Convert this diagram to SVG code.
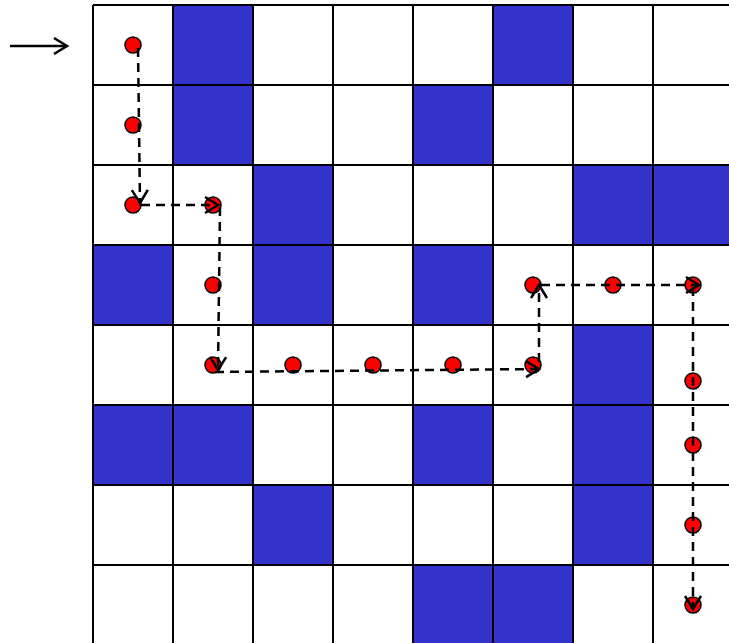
<svg xmlns="http://www.w3.org/2000/svg" width="729" height="643" viewBox="0 0 729 643">
<defs>
<style>
.cell{fill:#fff;stroke:#000;stroke-width:2}
.blue{fill:#3333CC;stroke:#000;stroke-width:2}
.dot{fill:#ff0000;stroke:#000;stroke-width:1.5}
.path{fill:none;stroke:#000;stroke-width:2.5;stroke-dasharray:9,6}
</style>
<marker id="ah" markerUnits="userSpaceOnUse" markerWidth="30" markerHeight="30" viewBox="-15 -15 30 30" refX="0" refY="0" orient="auto" overflow="visible">
<path d="M-13,-8 L0,0 L-13,8" fill="none" stroke="#000" stroke-width="2.5"/>
</marker>
</defs>
<rect width="729" height="643" fill="#fff"/>
<g id="grid">
<path d="M93,5 H733 M93,85 H733 M93,165 H733 M93,245 H733 M93,325 H733 M93,405 H733 M93,485 H733 M93,565 H733 M93,5 V645 M173,5 V645 M253,5 V645 M333,5 V645 M413,5 V645 M493,5 V645 M573,5 V645 M653,5 V645" stroke="#000" stroke-width="2" fill="none"/>
<g class="blue">
<rect x="173" y="5" width="80" height="80"/>
<rect x="493" y="5" width="80" height="80"/>
<rect x="173" y="85" width="80" height="80"/>
<rect x="413" y="85" width="80" height="80"/>
<rect x="253" y="165" width="80" height="80"/>
<rect x="573" y="165" width="80" height="80"/>
<rect x="653" y="165" width="80" height="80"/>
<rect x="93" y="245" width="80" height="80"/>
<rect x="253" y="245" width="80" height="80"/>
<rect x="413" y="245" width="80" height="80"/>
<rect x="573" y="325" width="80" height="80"/>
<rect x="93" y="405" width="80" height="80"/>
<rect x="173" y="405" width="80" height="80"/>
<rect x="413" y="405" width="80" height="80"/>
<rect x="573" y="405" width="80" height="80"/>
<rect x="253" y="485" width="80" height="80"/>
<rect x="573" y="485" width="80" height="80"/>
<rect x="413" y="565" width="80" height="80"/>
<rect x="493" y="565" width="80" height="80"/>
</g>
</g>
<g id="entry">
<line x1="10" y1="46" x2="67" y2="46" stroke="#000" stroke-width="2.5" marker-end="url(#ah)"/>
</g>
<g id="dots" class="dot">
<circle cx="133" cy="45" r="8"/>
<circle cx="133" cy="125" r="8"/>
<circle cx="133" cy="205" r="8"/>
<circle cx="213" cy="205" r="8"/>
<circle cx="213" cy="285" r="8"/>
<circle cx="213" cy="365" r="8"/>
<circle cx="293" cy="365" r="8"/>
<circle cx="373" cy="365" r="8"/>
<circle cx="453" cy="365" r="8"/>
<circle cx="533" cy="365" r="8"/>
<circle cx="533" cy="285" r="8"/>
<circle cx="613" cy="285" r="8"/>
<circle cx="693" cy="285" r="8"/>
<circle cx="693" cy="381" r="8"/>
<circle cx="693" cy="445" r="8"/>
<circle cx="693" cy="525" r="8"/>
<circle cx="693" cy="605" r="8"/>
</g>
<g id="connectors" class="path">
<line x1="138" y1="48" x2="140" y2="203" marker-end="url(#ah)"/>
<line x1="141" y1="205" x2="218" y2="205" marker-end="url(#ah)"/>
<line x1="220" y1="207" x2="218" y2="370" marker-end="url(#ah)"/>
<line x1="215" y1="372" x2="539" y2="369" marker-end="url(#ah)"/>
<line x1="539" y1="362" x2="539" y2="285" marker-end="url(#ah)"/>
<line x1="541" y1="285" x2="699" y2="285" marker-end="url(#ah)"/>
<line x1="693" y1="287" x2="693" y2="609" marker-end="url(#ah)"/>
</g>
</svg>
